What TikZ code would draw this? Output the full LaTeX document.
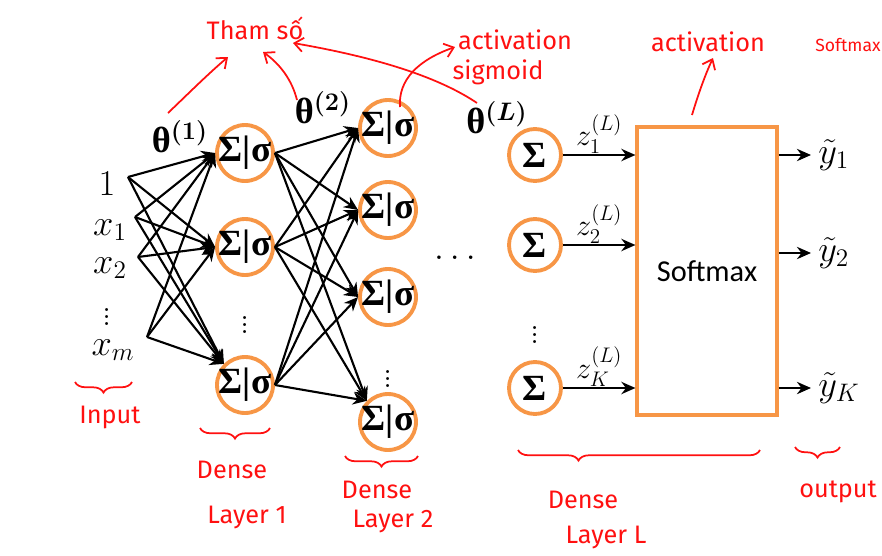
\documentclass[tikz,border=0pt]{standalone}
\usepackage{fontspec}
\usepackage{amsmath}
\usepackage{bm}
\usetikzlibrary{arrows.meta,decorations.pathreplacing}
\newfontfamily\notefont{Fira Sans}
\newfontfamily\boxfont{Carlito}
\newfontfamily\grkfont{Liberation Serif}
\definecolor{nodeorange}{HTML}{F79646}
\definecolor{penred}{HTML}{FF1010}
\newcommand\cellsize{\fontsize{21}{24}\selectfont}
\newcommand\sigcell{{\grkfont\bfseries\cellsize Σ|σ}}
\newcommand\sumcell{{\grkfont\bfseries\cellsize Σ}}
\newcommand\thetalbl[1]{{\grkfont\bfseries θ}$^{\bm{(#1)}}$}

\tikzset{
  neuron/.style={circle, draw=nodeorange, line width=2.2pt, fill=white,
    minimum size=1.12cm, inner sep=0pt},
  outneuron/.style={neuron, minimum size=1.04cm},
  softbox/.style={rectangle, draw=nodeorange, line width=1.8pt,
    minimum width=2.8cm, minimum height=5.76cm, font=\boxfont\LARGE},
  link/.style={-{Stealth[length=8pt,width=7pt]}, line width=1.2pt},
  mathlbl/.style={inner sep=0pt, font=\huge},
  note/.style={text=penred, font=\notefont\Large},
  notearrow/.style={penred, line width=1pt, -{Straight Barb[length=5pt,width=8pt]}},
  notebrace/.style={penred, line width=1pt, decorate,
    decoration={brace, mirror, amplitude=6pt}}
}

\begin{document}
\begin{tikzpicture}[x=0.02cm, y=-0.02cm]
  \useasboundingbox (0,0) rectangle (882,555);

  % inputs
  \node[mathlbl] (in0) at (107,184) {$1$};
  \node[mathlbl] (in1) at (110,230) {$x_1$};
  \node[mathlbl] (in2) at (110,268) {$x_2$};
  \node[mathlbl] (indots) at (107,312) {$\vdots$};
  \node[mathlbl] (inm) at (113,350) {$x_m$};
  \coordinate (s0) at (128,177);
  \coordinate (s1) at (135,217);
  \coordinate (s2) at (138,257);
  \coordinate (sm) at (147,337);

  % dense layer 1
  \node[neuron, label={center:\sigcell}] (h1) at (245,153) {};
  \node[neuron, label={center:\sigcell}] (h2) at (245,247) {};
  \node[mathlbl] (hdots) at (245,320) {$\vdots$};
  \node[neuron, label={center:\sigcell}] (h3) at (245,385) {};

  \foreach \s in {s0,s1,s2,sm} {
    \draw[link] (\s) -- (h1.west);
    \draw[link] (\s) -- (h2.west);
    \draw[link] (\s) -- (h3.135);
  }

  % dense layer 2
  \node[neuron, label={center:\sigcell}] (g1) at (388,128) {};
  \node[neuron, label={center:\sigcell}] (g2) at (388,210) {};
  \node[neuron, label={center:\sigcell}] (g3) at (388,297) {};
  \node[mathlbl] (gdots) at (388,374) {$\vdots$};
  \node[neuron, label={center:\sigcell}] (g4) at (388,422) {};

  \foreach \h in {h1,h2,h3} {
    \draw[link] (\h.east) -- (g1.west);
    \draw[link] (\h.east) -- (g2.west);
    \draw[link] (\h.east) -- (g3.west);
    \draw[link] (\h.east) -- (g4.135);
  }

  % parameters
  \node[mathlbl] (th1) at (180,137) {\thetalbl{1}};
  \node[mathlbl] (th2) at (323,108) {\thetalbl{2}};
  \node[mathlbl] (thL) at (497,118) {\thetalbl{L}};
  \node[mathlbl] (mid) at (458,258) {$\dots$};

  % dense layer L and softmax
  \node[outneuron, label={center:\sumcell}] (o1) at (535,155) {};
  \node[outneuron, label={center:\sumcell}] (o2) at (535,245) {};
  \node[mathlbl] (odots) at (535,330) {$\vdots$};
  \node[outneuron, label={center:\sumcell}] (o3) at (535,388) {};

  \node[softbox] (soft) at (707,271) {Softmax};

  \draw[link] (o1.east) -- (o1.east -| soft.west)
    node[midway, above, inner sep=0pt, font=\LARGE] {$z_1^{(L)}$};
  \draw[link] (o2.east) -- (o2.east -| soft.west)
    node[midway, above, inner sep=0pt, font=\LARGE] {$z_2^{(L)}$};
  \draw[link] (o3.east) -- (o3.east -| soft.west)
    node[midway, above, inner sep=0pt, font=\LARGE] {$z_K^{(L)}$};

  % outputs
  \coordinate (e1) at (811,155);
  \coordinate (e2) at (811,253);
  \coordinate (e3) at (811,388);
  \draw[link] (soft.east |- e1) -- (e1);
  \draw[link] (soft.east |- e2) -- (e2);
  \draw[link] (soft.east |- e3) -- (e3);
  \node[mathlbl, anchor=west, xshift=4pt] (yt1) at (e1) {$\tilde{y}_1$};
  \node[mathlbl, anchor=west, xshift=4pt] (yt2) at (e2) {$\tilde{y}_2$};
  \node[mathlbl, anchor=west, xshift=4pt] (yt3) at (e3) {$\tilde{y}_K$};

  % red notes on top
  \node[note] (tham) at (255,28) {Tham số};
  \node[note] (act1) at (515,40) {activation};
  \node[note] (sig) at (498,72) {sigmoid};
  \node[note] (act2) at (708,42) {activation};
  \node[note, font=\notefont\normalsize] (smx) at (848,45) {Softmax};

  \coordinate (a1) at (168,113);
  \coordinate (b1) at (228,57);
  \coordinate (a2) at (297,100);
  \coordinate (b2) at (263,52);
  \coordinate (a3) at (477,103);
  \coordinate (b3) at (293,43);
  \coordinate (a4) at (400,107);
  \coordinate (b4) at (455,47);
  \coordinate (a5) at (692,115);
  \coordinate (b5) at (713,58);
  \draw[notearrow] (a1) .. controls (190,92) and (208,74) .. (b1);
  \draw[notearrow] (a2) .. controls (292,80) and (280,64) .. (b2);
  \draw[notearrow] (a3) .. controls (440,78) and (380,58) .. (b3);
  \draw[notearrow] (a4) .. controls (398,80) and (418,60) .. (b4);
  \draw[notearrow] (a5) .. controls (698,95) and (705,75) .. (b5);

  % red braces and layer names
  \draw[notebrace] (75,382) -- (132,382);
  \node[note] (lin) at (110,417) {Input};
  \draw[notebrace] (200,428) -- (270,428);
  \node[note] (d1) at (232,470) {Dense};
  \node[note] (l1) at (247,517) {Layer 1};
  \draw[notebrace] (345,456) -- (418,456);
  \node[note] (d2) at (377,490) {Dense};
  \node[note] (l2) at (393,521) {Layer 2};
  \draw[notebrace, decoration={aspect=0.25}] (518,450) -- (760,450);
  \node[note] (dL) at (583,500) {Dense};
  \node[note] (lL) at (606,537) {Layer L};
  \draw[notebrace] (795,447) -- (840,447);
  \node[note] (lout) at (838,492) {output};
\end{tikzpicture}
\end{document}
